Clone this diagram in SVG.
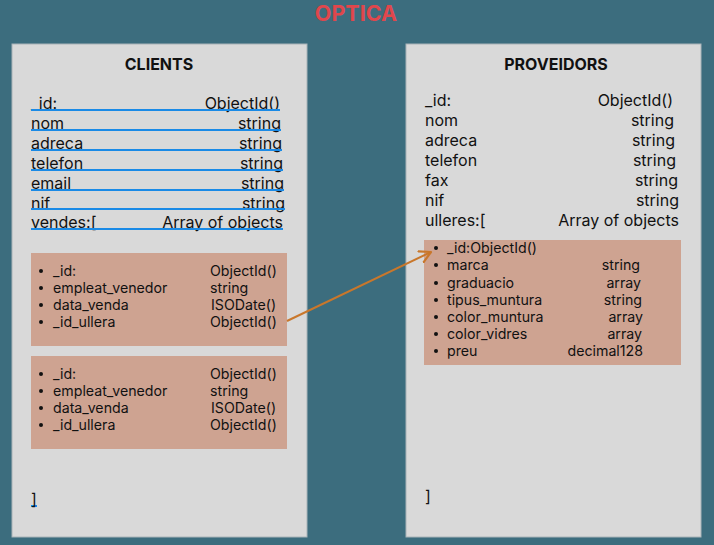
<svg xmlns="http://www.w3.org/2000/svg" width="714" height="545" viewBox="0 0 714 545">
<defs>
<style>
.t{font-family:Inter,"Liberation Sans",sans-serif;fill:#111;}
.row{font-size:16px;}
.sm{font-size:14.2px;}
.hd{font-size:16px;font-weight:bold;text-anchor:middle;}
.e{text-anchor:end;}
.box{fill:#d9d9d9;stroke:#a9b4b8;stroke-width:1;}
.sub{fill:#cea391;}
.ul{stroke:#1a8ae6;stroke-width:2;fill:none;}
.dot{fill:#111;}
</style>
<marker id="ah" viewBox="0 0 14 14" refX="12" refY="7" markerWidth="14" markerHeight="14" markerUnits="userSpaceOnUse" orient="auto">
<path d="M1,1 L12,7 L1,13" fill="none" stroke="#c9772b" stroke-width="2.2" stroke-linecap="round" stroke-linejoin="round"/>
</marker>
</defs>
<rect width="714" height="545" fill="#3c6d7e"/>
<text x="356" y="21" font-family="Inter,'Liberation Sans',sans-serif" font-size="21.5" font-weight="bold" fill="#e0474c" text-anchor="middle">OPTICA</text>

<g id="clients">
<rect class="box" x="12" y="44" width="295" height="493"/>
<text class="t hd" x="159" y="70">CLIENTS</text>
<g class="t row">
<text x="31" y="109">_id:</text><text class="e" x="280" y="109">ObjectId()</text>
<text x="31" y="129">nom</text><text class="e" x="281" y="129">string</text>
<text x="31" y="149">adreca</text><text class="e" x="282" y="149">string</text>
<text x="31" y="169">telefon</text><text class="e" x="283" y="169">string</text>
<text x="31" y="189">email</text><text class="e" x="284" y="189">string</text>
<text x="31" y="209">nif</text><text class="e" x="285" y="209">string</text>
<text x="31" y="228">vendes:[</text><text class="e" x="283" y="228">Array of objects</text>
</g>
<g class="ul">
<line x1="31" y1="110" x2="280" y2="110"/>
<line x1="31" y1="130" x2="281" y2="130"/>
<line x1="31" y1="150" x2="282" y2="150"/>
<line x1="31" y1="170" x2="283" y2="170"/>
<line x1="31" y1="190" x2="284" y2="190"/>
<line x1="31" y1="209" x2="285" y2="209"/>
<line x1="31" y1="229" x2="283" y2="229"/>
<line x1="31" y1="506" x2="37" y2="506"/>
</g>
<g id="venda1">
<rect class="sub" x="31" y="253" width="256" height="93"/>
<g class="dot"><circle cx="41" cy="271" r="2"/><circle cx="41" cy="288" r="2"/><circle cx="41" cy="305" r="2"/><circle cx="41" cy="322" r="2"/></g>
<g class="t sm">
<text x="53" y="276">_id:</text><text x="210" y="276">ObjectId()</text>
<text x="53" y="293">empleat_venedor</text><text x="210" y="293">string</text>
<text x="53" y="310">data_venda</text><text x="211" y="310">ISODate()</text>
<text x="53" y="327">_id_ullera</text><text x="210" y="327">ObjectId()</text>
</g>
</g>
<g id="venda2">
<rect class="sub" x="31" y="356" width="256" height="93"/>
<g class="dot"><circle cx="41" cy="374" r="2"/><circle cx="41" cy="391" r="2"/><circle cx="41" cy="408" r="2"/><circle cx="41" cy="425" r="2"/></g>
<g class="t sm">
<text x="53" y="379">_id:</text><text x="210" y="379">ObjectId()</text>
<text x="53" y="396">empleat_venedor</text><text x="210" y="396">string</text>
<text x="53" y="413">data_venda</text><text x="211" y="413">ISODate()</text>
<text x="53" y="430">_id_ullera</text><text x="210" y="430">ObjectId()</text>
</g>
</g>
<text class="t row" x="31" y="505">]</text>
</g>

<g id="proveidors">
<rect class="box" x="406" y="44" width="295" height="493"/>
<text class="t hd" x="556" y="70">PROVEIDORS</text>
<g class="t row">
<text x="425" y="106">_id:</text><text class="e" x="673" y="106">ObjectId()</text>
<text x="425" y="126">nom</text><text class="e" x="674" y="126">string</text>
<text x="425" y="146">adreca</text><text class="e" x="675" y="146">string</text>
<text x="425" y="166">telefon</text><text class="e" x="676" y="166">string</text>
<text x="425" y="186">fax</text><text class="e" x="678" y="186">string</text>
<text x="425" y="206">nif</text><text class="e" x="679" y="206">string</text>
<text x="425" y="226">ulleres:[</text><text class="e" x="679" y="226">Array of objects</text>
</g>
<g id="ullera">
<rect class="sub" x="424" y="240" width="257" height="125"/>
<g class="dot"><circle cx="436" cy="248" r="2"/><circle cx="436" cy="265" r="2"/><circle cx="436" cy="283" r="2"/><circle cx="436" cy="300" r="2"/><circle cx="436" cy="317" r="2"/><circle cx="436" cy="334" r="2"/><circle cx="436" cy="351" r="2"/></g>
<g class="t sm">
<text x="447" y="253">_id:ObjectId()</text>
<text x="447" y="270">marca</text><text class="e" x="640" y="270">string</text>
<text x="447" y="288">graduacio</text><text class="e" x="641" y="288">array</text>
<text x="447" y="305">tipus_muntura</text><text class="e" x="642" y="305">string</text>
<text x="447" y="322">color_muntura</text><text class="e" x="643" y="322">array</text>
<text x="447" y="339">color_vidres</text><text class="e" x="642" y="339">array</text>
<text x="447" y="356">preu</text><text class="e" x="643" y="356">decimal128</text>
</g>
</g>
<text class="t row" x="425" y="502">]</text>
</g>

<g id="connectors">
<line x1="287" y1="321" x2="431" y2="252" stroke="#c9772b" stroke-width="2" marker-end="url(#ah)"/>
</g>
</svg>
